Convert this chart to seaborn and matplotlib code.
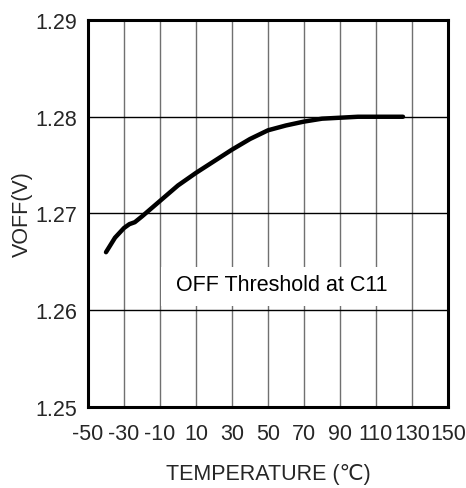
import matplotlib
matplotlib.use("Agg")
import matplotlib.pyplot as plt
import seaborn as sns
import pandas as pd
from matplotlib.patches import Rectangle

temperature = [-40, -35, -30, -27, -24, -20, -10, 0, 10, 20, 30, 40, 50, 60, 70, 80, 90, 100, 110, 125]
voff = [1.2660, 1.2675, 1.2685, 1.2689, 1.2691, 1.2697, 1.2713, 1.2729, 1.2742, 1.2754,
        1.2766, 1.2777, 1.2786, 1.2791, 1.2795, 1.2798, 1.2799, 1.2800, 1.2800, 1.2800]
x_ticks = [-50, -30, -10, 10, 30, 50, 70, 90, 110, 130, 150]
y_ticks = [1.25, 1.26, 1.27, 1.28, 1.29]
annotation = "OFF Threshold at C11"

df = pd.DataFrame({"T": temperature, "V": voff})

sns.set_theme(style="white")
plt.rcParams['font.family'] = ['Liberation Sans', 'DejaVu Sans']

fig = plt.figure(figsize=(4.66, 4.89), dpi=100)
ax = fig.add_axes([88/466, 1 - 408/489, 360/466, 387/489])

sns.lineplot(data=df, x="T", y="V", ax=ax, color="black", linewidth=3.2, zorder=3)

ax.set_xlim(-50, 150)
ax.set_ylim(1.25, 1.29)
ax.set_xticks(range(-50, 151, 20))
ax.set_xticklabels([str(t) for t in x_ticks], fontsize=15.5)
ax.set_yticks(y_ticks)
ax.set_yticklabels([f"{v:.2f}" for v in y_ticks], fontsize=15.5)
ax.tick_params(axis='x', length=0, pad=11.5)
ax.tick_params(axis='y', length=0, pad=8)

ax.set_axisbelow(True)
ax.xaxis.grid(True, color="#707070", linewidth=1.0)
ax.yaxis.grid(True, color="black", linewidth=1.0)

for s in ax.spines.values():
    s.set_visible(True)
    s.set_color("black")
    s.set_linewidth(2.2)

ax.add_patch(Rectangle((-9.4, 1.26044), 138.8, 0.00403, facecolor="white",
                       edgecolor="none", zorder=1))
ax.text(57.5, 1.2627, annotation, ha="center", va="center", fontsize=15.5,
        color="black", zorder=4)

ax.set_xlabel("TEMPERATURE (℃)", fontsize=15.5, labelpad=14)
ax.yaxis.set_label_coords(-55/360, 0.5)
ax.set_ylabel("VOFF(V)", fontsize=15.5)

fig.savefig("out.png", dpi=100)
